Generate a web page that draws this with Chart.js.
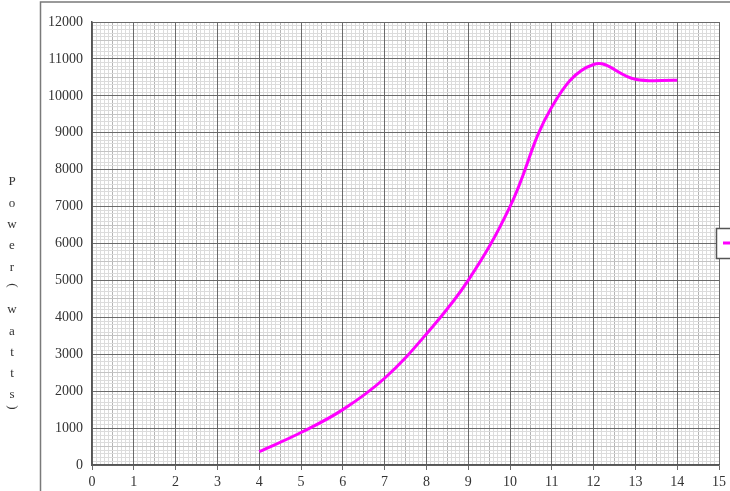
<!DOCTYPE html>
<html>
<head>
<meta charset="utf-8">
<script src="https://cdn.jsdelivr.net/npm/chart.js@4/dist/chart.umd.min.js"></script>
<style>
  html, body { margin: 0; padding: 0; background: #fff; overflow: hidden; }
  #wrap { width: 730px; height: 491px; position: relative; }
</style>
</head>
<body>
<div id="wrap"><canvas id="grafico"></canvas></div>
<script>
// datos
var velocidad = [4, 5, 6, 7, 8, 9, 10, 11, 12, 13, 14];
var potencia = [360, 880, 1500, 2350, 3550, 5000, 7000, 9700, 10850, 10450, 10420];
var serie = 'Power';
var tituloY = ['P', 'o', 'w', 'e', 'r', '(', 'w', 'a', 't', 't', 's', ')'];

var fuente = "'Liberation Serif', 'DejaVu Serif', serif";

// marco del area del grafico, titulo vertical y leyenda
var marco = {
  id: 'marco',
  afterDraw: function (chart) {
    var ctx = chart.ctx;
    ctx.save();
    ctx.strokeStyle = '#7a7a7a';
    ctx.lineWidth = 1.5;
    ctx.beginPath();
    ctx.moveTo(40.5, 491);
    ctx.lineTo(40.5, 2);
    ctx.lineTo(730, 2);
    ctx.stroke();

    // titulo del eje y, letra por letra (parentesis girados)
    ctx.fillStyle = '#333';
    ctx.textAlign = 'center';
    ctx.textBaseline = 'middle';
    ctx.font = '13px ' + fuente;
    var y = 182;
    tituloY.forEach(function (c) {
      if (c === '(' || c === ')') {
        ctx.save();
        ctx.translate(12, c === '(' ? y - 3 : y - 9);
        ctx.rotate(Math.PI / 2);
        ctx.fillText(c, 0, 0);
        ctx.restore();
      } else {
        ctx.fillText(c, 12, y);
      }
      y += 21.3;
    });

    // leyenda
    var ds = chart.data.datasets[0];
    ctx.fillStyle = '#fff';
    ctx.fillRect(716, 228, 90, 30);
    ctx.strokeStyle = '#555';
    ctx.lineWidth = 1.5;
    ctx.strokeRect(716.5, 228.5, 90, 30);
    ctx.strokeStyle = ds.borderColor;
    ctx.lineWidth = 3;
    ctx.beginPath();
    ctx.moveTo(723, 243);
    ctx.lineTo(745, 243);
    ctx.stroke();
    ctx.fillStyle = '#333';
    ctx.textAlign = 'left';
    ctx.fillText(ds.label, 750, 243);
    ctx.restore();
  }
};

var ctx = document.getElementById('grafico').getContext('2d');
var myChart = new Chart(ctx, {
  type: 'line',
  data: {
    datasets: [{
      label: serie,
      data: velocidad.map(function (v, i) { return { x: v, y: potencia[i] }; }),
      borderColor: '#ff00ff',
      borderWidth: 3,
      pointRadius: 0,
      fill: false,
      tension: 0.4
    }]
  },
  options: {
    responsive: true,
    maintainAspectRatio: false,
    animation: false,
    layout: { padding: { left: 40, top: 22, right: 8, bottom: 0 } },
    plugins: { legend: { display: false }, tooltip: { enabled: false } },
    scales: {
      xMenor: {
        axis: 'x', type: 'linear', position: 'bottom', min: 0, max: 15, z: -2,
        ticks: { display: false, stepSize: 0.1 },
        grid: { color: '#dcdcdc', lineWidth: 1, drawTicks: false },
        border: { display: false }
      },
      xMedio: {
        axis: 'x', type: 'linear', position: 'bottom', min: 0, max: 15, z: -1,
        ticks: { display: false, stepSize: 0.5 },
        grid: { color: '#b4b4b4', lineWidth: 1, drawTicks: false },
        border: { display: false }
      },
      yMenor: {
        axis: 'y', type: 'linear', position: 'left', min: 0, max: 12000, z: -2,
        ticks: { display: false, stepSize: 100 },
        grid: { color: '#dcdcdc', lineWidth: 1, drawTicks: false },
        border: { display: false }
      },
      yMedio: {
        axis: 'y', type: 'linear', position: 'left', min: 0, max: 12000, z: -1,
        ticks: { display: false, stepSize: 500 },
        grid: { color: '#c4c4c4', lineWidth: 1, drawTicks: false },
        border: { display: false }
      },
      x: {
        type: 'linear', position: 'bottom', min: 0, max: 15,
        ticks: { stepSize: 1, autoSkip: false, maxRotation: 0, padding: 4,
                 color: '#333', font: { family: fuente, size: 14 } },
        grid: { color: '#6a6a6a', lineWidth: 1, tickLength: 5 },
        border: { color: '#555', width: 1.5 },
        afterFit: function (scale) { scale.height = 26; }
      },
      y: {
        type: 'linear', position: 'left', min: 0, max: 12000,
        ticks: { stepSize: 1000, autoSkip: false, padding: 9,
                 color: '#333', font: { family: fuente, size: 14 },
                 callback: function (v) { return String(v); } },
        grid: { color: '#6a6a6a', lineWidth: 1, drawTicks: false },
        border: { color: '#555', width: 1.5 },
        afterFit: function (scale) { scale.width = 52; }
      }
    }
  },
  plugins: [marco]
});
</script>
</body>
</html>
